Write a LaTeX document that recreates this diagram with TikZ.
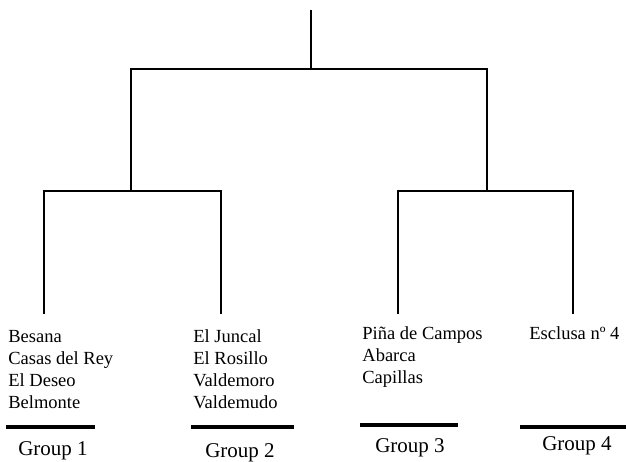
\documentclass[tikz,border=0pt]{standalone}
\usepackage{fontspec}
\setmainfont{Liberation Serif}
\usetikzlibrary{positioning}

\begin{document}
\begin{tikzpicture}[x=0.5pt,y=-0.5pt,
		branch/.style={line width=0.75pt},
		grouprule/.style={line width=2pt},
		sites/.style={anchor=north west, align=left, inner sep=0pt, font=\fontsize{9.25}{11}\selectfont},
		grouplabel/.style={anchor=base, inner sep=0pt, font=\fontsize{10.5}{12}\selectfont}]
		\useasboundingbox (0,0) rectangle (626,461);

		% the tree
		\coordinate	(root)		at	(311,10);
		\coordinate	(rootjoin)	at	(311,69);
		\coordinate	(leftjoin)	at	(131,191);
		\coordinate	(rightjoin)	at	(487,191);
		\coordinate	(leafa)		at	(44,314);
		\coordinate	(leafb)		at	(221,314);
		\coordinate	(leafc)		at	(398,314);
		\coordinate	(leafd)		at	(573,314);
		\draw[branch] (root)		-- (rootjoin);
		\draw[branch] (rootjoin)	-| (leftjoin);
		\draw[branch] (rootjoin)	-| (rightjoin);
		\draw[branch] (leftjoin)	-| (leafa);
		\draw[branch] (leftjoin)	-| (leafb);
		\draw[branch] (rightjoin)	-| (leafc);
		\draw[branch] (rightjoin)	-| (leafd);

		% sites of each group
		\node[sites]	(sitesa)	at	(8,330)		{Besana\\Casas del Rey\\El Deseo\\Belmonte};
		\node[sites]	(sitesb)	at	(193,329)	{El Juncal\\El Rosillo\\Valdemoro\\Valdemudo};
		\node[sites]	(sitesc)	at	(362,326)	{Piña de Campos\\Abarca\\Capillas};
		\node[sites]	(sitesd)	at	(529,326)	{Esclusa nº 4};

		% group rules and names
		\coordinate	(rulea)		at	(6,427);
		\coordinate	(ruleaend)	at	(95,427);
		\coordinate	(ruleb)		at	(191,427);
		\coordinate	(rulebend)	at	(294,427);
		\coordinate	(rulec)		at	(360,425);
		\coordinate	(rulecend)	at	(458,425);
		\coordinate	(ruled)		at	(520,427);
		\coordinate	(ruledend)	at	(626,427);
		\draw[grouprule] (rulea) -- (ruleaend);
		\draw[grouprule] (ruleb) -- (rulebend);
		\draw[grouprule] (rulec) -- (rulecend);
		\draw[grouprule] (ruled) -- (ruledend);

		\node[grouplabel]	(groupa)	at	(53,455)	{Group 1};
		\node[grouplabel]	(groupb)	at	(240,457)	{Group 2};
		\node[grouplabel]	(groupc)	at	(410,452)	{Group 3};
		\node[grouplabel]	(groupd)	at	(577,450)	{Group 4};
	\end{tikzpicture}
\end{document}
